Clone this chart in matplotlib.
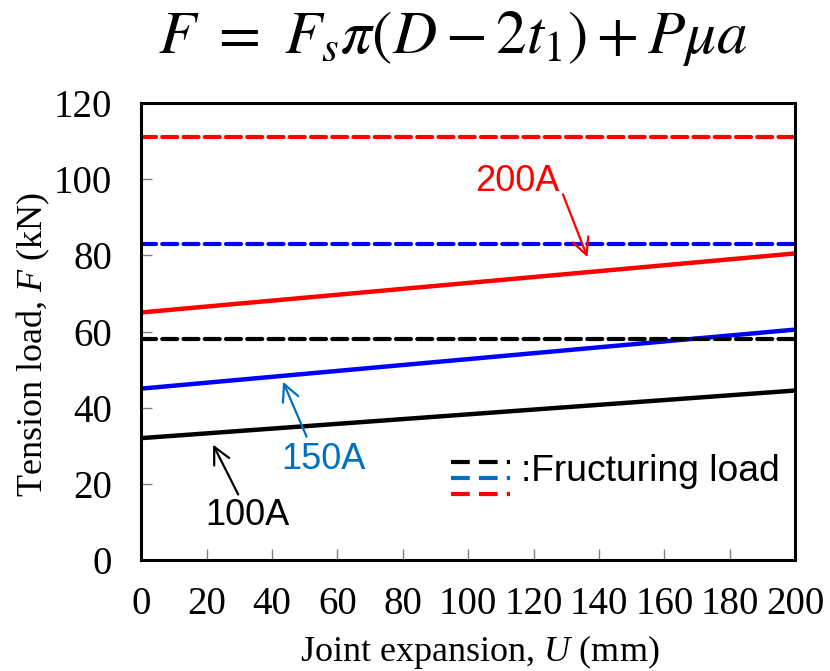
import matplotlib.pyplot as plt

plt.rcParams['font.family'] = ['Liberation Serif', 'DejaVu Serif']
plt.rcParams['mathtext.fontset'] = 'custom'
plt.rcParams['mathtext.rm'] = 'Liberation Serif'
plt.rcParams['mathtext.it'] = 'Liberation Serif:italic'

# joint expansion U (mm) at both ends of the lines
u = [0, 200]
load_100A = [32.0, 44.5]
load_150A = [45.0, 60.5]
load_200A = [65.0, 80.5]

# fracturing loads (kN)
frac_100A = 58.0
frac_150A = 83.0
frac_200A = 111.0

xticks = [0, 20, 40, 60, 80, 100, 120, 140, 160, 180, 200]
yticks = [0, 20, 40, 60, 80, 100, 120]

fig = plt.figure(figsize=(8.3, 6.71), dpi=100)
ax = fig.add_axes([0.170, 0.1654, 0.788, 0.6811])

ax.plot(u, load_100A, color='black', lw=3.2)
ax.plot(u, load_150A, color='#0000ff', lw=3.2)
ax.plot(u, load_200A, color='#ff0000', lw=3.2)

dash = dict(lw=3, dashes=(3.6, 1.5), dash_capstyle='round')
ax.plot(u, [frac_100A, frac_100A], color='black', **dash)
ax.plot(u, [frac_150A, frac_150A], color='#0000ff', **dash)
ax.plot(u, [frac_200A, frac_200A], color='#ff0000', **dash)

# small legend drawn by hand
leg_x = [94.8, 112.8]
leg_dash = dict(lw=3, dashes=(4.5, 2.2))
ax.plot(leg_x, [25.7, 25.7], color='black', **leg_dash)
ax.plot(leg_x, [21.5, 21.5], color='#0070c0', **leg_dash)
ax.plot(leg_x, [17.3, 17.3], color='#ff0000', **leg_dash)
ax.text(116.3, 23.3, ':Fructuring load', family='Liberation Sans', fontsize=26.8,
        va='center', ha='left')

# labels and arrows
lab = dict(family='Liberation Sans', fontsize=26, ha='center', va='center')
ax.text(115, 99.5, '200A', color='#ff0000', **lab)
ax.text(55.7, 26.3, '150A', color='#0070c0', **lab)
ax.text(32.4, 11.8, '100A', color='black', **lab)

arrow = dict(arrowstyle='->', lw=1.6, mutation_scale=30, shrinkA=0, shrinkB=0)
ax.annotate('', xy=(136.5, 79.5), xytext=(129, 96.0),
            arrowprops=dict(arrow, color='#ff0000'))
ax.annotate('', xy=(43.4, 46.8), xytext=(50.6, 32.4),
            arrowprops=dict(arrow, color='#0070c0'))
ax.annotate('', xy=(22, 30.3), xytext=(29.7, 17.2),
            arrowprops=dict(arrow, color='black'))

ax.set_xlim(0, 200)
ax.set_ylim(0, 120)
ax.set_xticks(xticks)
ax.set_yticks(yticks)
ax.tick_params(direction='in', length=8, width=1, color='#808080',
               labelsize=28)
ax.tick_params(axis='x', pad=19)
ax.tick_params(axis='y', pad=21)
for s in ax.spines.values():
    s.set_linewidth(2.2)

ax.set_xlabel('Joint expansion, $\\mathit{U}$ (mm)', fontsize=26)
ax.set_ylabel('Tension load, $\\mathit{F}$ (kN)', fontsize=26)
ax.xaxis.set_label_coords(0.518, -0.16)
ax.yaxis.set_label_coords(-0.136, 0.473)

fig.text(0.546, 0.943, r'$F\ =\ F_s\pi(D-2t_1)+P\mu a$', fontsize=44,
         ha='center', va='center', math_fontfamily='stix')

plt.savefig('out.png')
